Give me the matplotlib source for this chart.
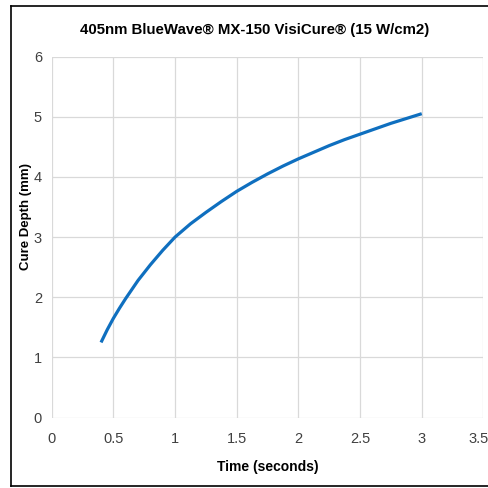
import matplotlib.pyplot as plt
import matplotlib.transforms as mtransforms
from matplotlib.lines import Line2D

# values
time_s = [0.4, 0.45, 0.5, 0.55, 0.6, 0.65, 0.7, 0.75, 0.8, 0.85, 0.9, 0.95, 1.0,
          1.125, 1.25, 1.375, 1.5, 1.625, 1.75, 1.875, 2.0, 2.125, 2.25, 2.375,
          2.5, 2.625, 2.75, 2.875, 3.0]
cure_depth = [1.25, 1.46, 1.65, 1.82, 1.98, 2.13, 2.28, 2.41, 2.54, 2.66, 2.78, 2.89, 3.0,
              3.22, 3.41, 3.59, 3.76, 3.91, 4.05, 4.18, 4.30, 4.41, 4.52, 4.62,
              4.71, 4.80, 4.89, 4.97, 5.05]
x_ticks = [0, 0.5, 1, 1.5, 2, 2.5, 3, 3.5]
y_ticks = [0, 1, 2, 3, 4, 5, 6]

font = ['Liberation Sans', 'DejaVu Sans']
tick_col = '#404040'

fig = plt.figure(figsize=(4.89, 4.88), dpi=100)
ax = fig.add_axes([0.1057, 0.1441, 0.8829, 0.7401])

ax.plot(time_s, cure_depth, color='#0F6FBF', lw=2.3, solid_capstyle='butt')

ax.set_xlim(0, 3.5)
ax.set_ylim(0, 6)
ax.set_xticks(x_ticks)
ax.set_yticks(y_ticks)
ax.set_xticklabels([f'{t:g}' for t in x_ticks], family=font, fontsize=10.5, color=tick_col)
ax.set_yticklabels([f'{t:g}' for t in y_ticks], family=font, fontsize=10.5, color=tick_col)
ax.tick_params(axis='x', length=0, pad=10)
ax.tick_params(axis='y', length=0, pad=7)
ax.grid(True, color='#d9d9d9', lw=0.9)
ax.set_axisbelow(True)
for s in ax.spines.values():
    s.set_visible(False)

# last x label sits against the picture edge, nudge it in a little
last = ax.get_xticklabels()[-1]
last.set_transform(last.get_transform() + mtransforms.ScaledTranslation(-5 / 100, 0, fig.dpi_scale_trans))

ax.set_xlabel('Time (seconds)', family=font, fontweight='bold', fontsize=10, color='black')
ax.xaxis.set_label_coords(0.5, -0.118)
ax.set_ylabel('Cure Depth (mm)', family=font, fontweight='bold', fontsize=9.5, color='black')
ax.yaxis.set_label_coords(-0.046, 0.557)

fig.text(0.52, 0.938, '405nm BlueWave® MX-150 VisiCure® (15 W/cm2)', family=font,
         fontweight='bold', fontsize=10.8, ha='center', va='center')

# outer frame of the pasted chart
fig.add_artist(Line2D([0.0225, 0.0225], [0.004, 0.988], color='black', lw=1.2))
fig.add_artist(Line2D([0.0225, 1.0], [0.988, 0.988], color='black', lw=1.2))
fig.add_artist(Line2D([0.0225, 1.0], [0.004, 0.004], color='black', lw=1.2))

fig.savefig('out.png', dpi=100)
